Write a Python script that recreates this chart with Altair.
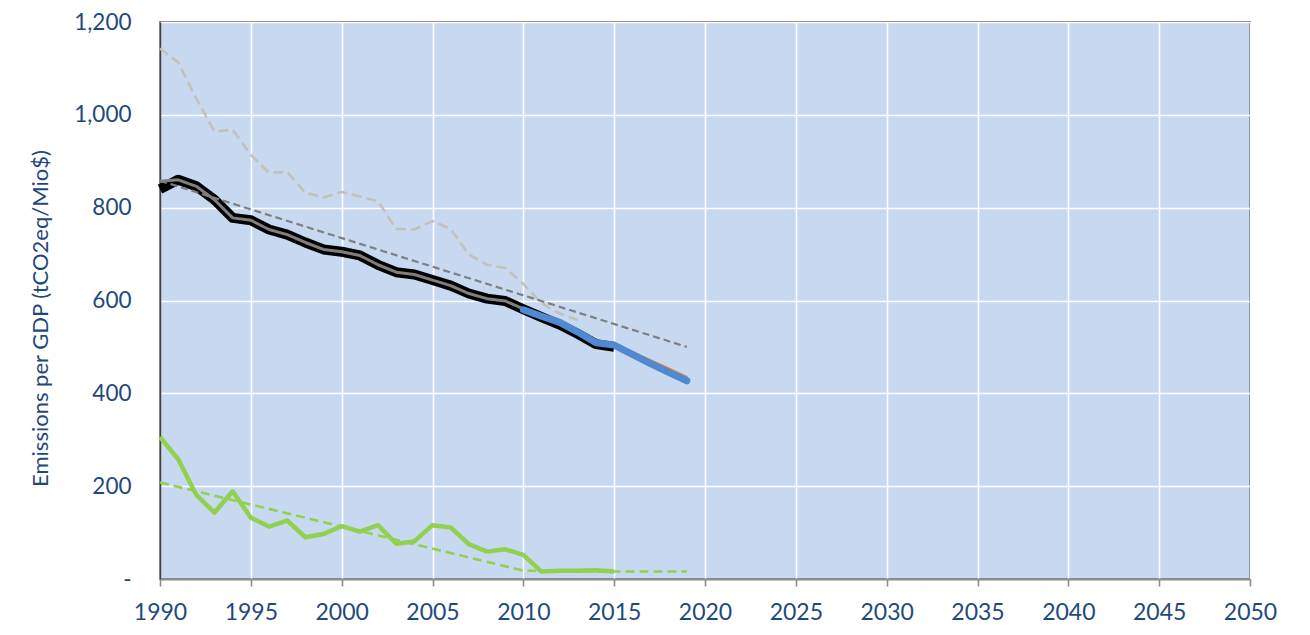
import altair as alt
import pandas as pd

# ---- data ----
years_hist = list(range(1990, 2016))
black_vals = [840, 860, 846, 817, 778, 773, 753, 742, 725, 710, 705, 697, 677,
              661, 656, 644, 632, 615, 604, 599, 581, 564, 548, 528, 506, 500]
years_inner = list(range(1990, 2011))
inner_vals = [857, 860, 846, 817, 778, 773, 753, 742, 725, 710, 705, 697, 677,
              661, 656, 644, 632, 615, 604, 599, 582]
years_light = list(range(1990, 2014))
light_vals = [1143, 1113, 1035, 964, 968, 914, 875, 877, 832, 822, 834, 824,
              814, 754, 753, 771, 754, 699, 677, 670, 636, 594, 572, 558]
years_blue = list(range(2010, 2020))
blue_vals = [580, 566, 553, 532, 509, 504, 484, 464, 445, 427]
years_orange = list(range(2015, 2020))
orange_vals = [504, 486, 468, 450, 432]
years_trend = [1990, 2019]
trend_vals = [858, 500]
years_green = list(range(1990, 2016))
green_vals = [306, 258, 181, 143, 189, 132, 113, 126, 90, 97, 114, 102, 116,
              76, 81, 116, 111, 75, 59, 64, 52, 16, 18, 18, 19, 16]
years_gtrend = [1990, 2010, 2015, 2019]
gtrend_vals = [208, 18, 16, 16]

x_ticks = list(range(1990, 2051, 5))
y_ticks = list(range(0, 1201, 200))

LABEL_COLOR = "#1F497D"
FONT = "Lato"
NB = "\u00a0"


def df(xs, ys):
    return pd.DataFrame({"year": xs, "value": ys})


x_enc = alt.X(
    "year:Q",
    scale=alt.Scale(domain=[1990, 2050], nice=False, zero=False),
    axis=alt.Axis(
        values=x_ticks, format="d", title=None, grid=True,
        gridColor="white", gridWidth=1.6,
        domainColor="#8C8C8C", domainWidth=2,
        tickColor="#8C8C8C", tickWidth=1.6, tickSize=7,
        labelColor=LABEL_COLOR, labelFont=FONT, labelFontSize=23,
        labelPadding=15, labelFlush=False, labelOverlap=False,
    ),
)
y_enc = alt.Y(
    "value:Q",
    scale=alt.Scale(domain=[0, 1200], nice=False),
    axis=alt.Axis(
        values=y_ticks, title="Emissions per GDP (tCO2eq/Mio$)",
        labelExpr="datum.value == 0 ? '-" + NB * 3 + "' : format(datum.value, ',')",
        grid=True, gridColor="white", gridWidth=1.6,
        domainColor="#404040", domainWidth=1.5, ticks=False,
        labelColor=LABEL_COLOR, labelFont=FONT, labelFontSize=22.5,
        labelPadding=29, labelOverlap=False,
        titleColor=LABEL_COLOR, titleFont=FONT, titleFontSize=22,
        titleFontWeight="normal", titleX=-108, titleY=296,
        titleAlign="center", titleBaseline="bottom", titleAngle=270,
    ),
)


def line(data, color, width, dash=None, cap="butt"):
    kw = dict(color=color, strokeWidth=width, strokeJoin="round", strokeCap=cap)
    if dash:
        kw["strokeDash"] = dash
    return alt.Chart(data).mark_line(**kw).encode(x=x_enc, y=y_enc)


layers = [
    line(df(years_light, light_vals), "#C4C0BA", 2.6, [10, 5]),
    line(df(years_gtrend, gtrend_vals), "#92D050", 2.6, [9, 5]),
    line(df(years_green, green_vals), "#92D050", 4.5),
    line(df(years_hist, black_vals), "#000000", 10),
    line(df(years_inner, inner_vals), "#7F7F7F", 3),
    line(df(years_trend, trend_vals), "#7F7F7F", 2.2, [7, 4]),
    line(df(years_orange, orange_vals), "#ED7D31", 5),
    line(df(years_blue, blue_vals), "#4F88D3", 7, cap="round"),
]

chart = alt.layer(*layers).properties(
    width=1090,
    height=557,
    autosize=alt.AutoSizeParams(type="none"),
    padding={"left": 152, "top": 14, "right": 50, "bottom": 48},
    background="white",
).configure_view(
    fill="#C6D9F0", stroke="#404040", strokeWidth=1.5,
)

chart.save("out.html", embed_options={"renderer": "svg", "actions": False})
